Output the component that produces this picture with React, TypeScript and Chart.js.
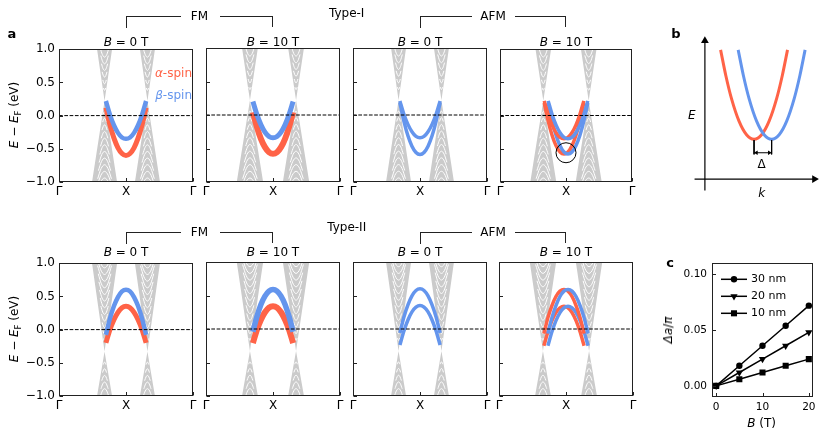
import React, { useEffect, useRef } from 'react';
import { Chart, registerables } from 'chart.js';
import { drawPoint } from 'chart.js/helpers';

Chart.register(...registerables);

const FONT = '"DejaVu Sans", "Liberation Sans", Arial, sans-serif';
const RED = '#ff6347';
const BLUE = '#6495ed';
const GRAY = '#cbcbcb';
const INK = '#222222';

// ---------------- panel a : axes ----------------
const kTicks = [0, 1, 2];
const kTickLabels = ['Γ', 'X', 'Γ'];
const eTicks = [-1, -0.5, 0, 0.5, 1];
const eTickLabels = ['−1.0', '−0.5', '0.0', '0.5', '1.0'];
const typeNames = ['Type-I', 'Type-II'];
const orderNames = ['FM', 'AFM'];
const fieldValues = ['0', '10', '0', '10'];

// ---------------- panel a : bulk cones ----------------
const coneCrossK = [0.68, 0.656, 0.68, 0.656]; // left crossing (right one mirrored about X)
const coneCrossE = [0.22, -0.33]; // per row
const coneTopHalf = [[0.112, 0.118], [0.187, 0.197]]; // half width at E = +1  [row][B=0, B=10]
const coneBottomHalf = [[0.187, 0.197], [0.112, 0.118]]; // half width at E = -1
const gapOffsetsShort = [0.16, 0.26, 0.36, 0.46, 0.56, 0.66, 0.76];
const gapOffsetsLong = [0.16, 0.26, 0.36, 0.46, 0.56, 0.66, 0.76, 0.86, 0.96, 1.06, 1.16, 1.26];

// ---------------- panel a : surface bands (half branch, offset from X) ----------------
const bandDk = [0, 0.06, 0.12, 0.18, 0.24, 0.3];
const t1FmB0Alpha = [-0.6, -0.57, -0.485, -0.34, -0.14, 0.12];
const t1FmB0Beta = [-0.35, -0.33, -0.26, -0.145, 0.015, 0.22];
const t1FmB10Alpha = [-0.58, -0.555, -0.48, -0.355, -0.18, 0.04];
const t1FmB10Beta = [-0.34, -0.32, -0.255, -0.145, 0.005, 0.2];
const t1AfmB0Upper = [-0.34, -0.32, -0.25, -0.14, 0.01, 0.21];
const t1AfmB0Lower = [-0.59, -0.56, -0.465, -0.31, -0.095, 0.18];
const t1AfmB10Upper = [-0.35, -0.33, -0.26, -0.145, 0.015, 0.22];
const t1AfmB10Lower = [-0.58, -0.55, -0.455, -0.3, -0.085, 0.19];
const t2FmB0Alpha = [0.35, 0.33, 0.26, 0.15, 0.0, -0.2];
const t2FmB0Beta = [0.6, 0.575, 0.49, 0.355, 0.165, -0.08];
const t2FmB10Alpha = [0.34, 0.32, 0.25, 0.14, -0.01, -0.21];
const t2FmB10Beta = [0.59, 0.565, 0.49, 0.365, 0.185, -0.04];
const t2AfmB0Upper = [0.6, 0.575, 0.495, 0.36, 0.18, -0.06];
const t2AfmB0Lower = [0.35, 0.325, 0.255, 0.135, -0.03, -0.24];
const t2AfmB10Upper = [0.59, 0.565, 0.485, 0.35, 0.17, -0.07];
const t2AfmB10Lower = [0.34, 0.315, 0.245, 0.125, -0.04, -0.25];
const afmSplitK = 0.03;
const ringCentre = { x: 1, y: -0.56 };

// ---------------- panel b : schematic ----------------
const schemDk = [0, 0.8, 1.6, 2.4, 3.0, 3.56];
const schemE = [4.2, 4.67, 6.1, 8.47, 10.88, 13.6];
const schemMinK = [5.23, 7.1]; // alpha, beta
const schemKAxis = [-1.1, 11.65];
const schemEAxis = [-1.2, 14.55];
const schemMarkE = [4.1, 2.6];
const schemArrowE = 2.77;

// ---------------- panel c ----------------
const fieldB = [0, 5, 10, 15, 20];
const split30 = [0, 0.018, 0.036, 0.054, 0.072];
const split20 = [0, 0.012, 0.024, 0.036, 0.048];
const split10 = [0, 0.006, 0.012, 0.018, 0.024];
const thicknessNames = ['30 nm', '20 nm', '10 nm'];
const cXTicks = [0, 10, 20];
const cYTicks = [0, 0.05, 0.1];
const cYTickLabels = ['0.00', '0.05', '0.10'];

// ---------------- layout ----------------
const panelLeft = [59, 206, 353, 499];
const panelTop = [48, 262];
const panelW = 134;
const panelH = 134;

type BandSpec = { e: number[]; color: string; width: number; shift: number };
const bandSpecs: BandSpec[][][] = [
  [
    [
      { e: t1FmB0Alpha, color: RED, width: 5, shift: 0 },
      { e: t1FmB0Beta, color: BLUE, width: 4.5, shift: 0 },
    ],
    [
      { e: t1FmB10Alpha, color: RED, width: 6, shift: 0 },
      { e: t1FmB10Beta, color: BLUE, width: 5, shift: 0 },
    ],
    [
      { e: t1AfmB0Lower, color: BLUE, width: 3.5, shift: 0 },
      { e: t1AfmB0Upper, color: BLUE, width: 3.5, shift: 0 },
    ],
    [
      { e: t1AfmB10Lower, color: RED, width: 3.5, shift: -afmSplitK },
      { e: t1AfmB10Lower, color: BLUE, width: 3.5, shift: afmSplitK },
      { e: t1AfmB10Upper, color: RED, width: 3.5, shift: -afmSplitK },
      { e: t1AfmB10Upper, color: BLUE, width: 3.5, shift: afmSplitK },
    ],
  ],
  [
    [
      { e: t2FmB0Alpha, color: RED, width: 5, shift: 0 },
      { e: t2FmB0Beta, color: BLUE, width: 4.5, shift: 0 },
    ],
    [
      { e: t2FmB10Alpha, color: RED, width: 6, shift: 0 },
      { e: t2FmB10Beta, color: BLUE, width: 5.5, shift: 0 },
    ],
    [
      { e: t2AfmB0Lower, color: BLUE, width: 3.5, shift: 0 },
      { e: t2AfmB0Upper, color: BLUE, width: 3.5, shift: 0 },
    ],
    [
      { e: t2AfmB10Lower, color: RED, width: 3.5, shift: -afmSplitK },
      { e: t2AfmB10Lower, color: BLUE, width: 3.5, shift: afmSplitK },
      { e: t2AfmB10Upper, color: RED, width: 3.5, shift: -afmSplitK },
      { e: t2AfmB10Upper, color: BLUE, width: 3.5, shift: afmSplitK },
    ],
  ],
];

// ---------------- builders ----------------
function hourglass(kc: number, ec: number, topHalf: number, botHalf: number) {
  return [
    { x: kc - topHalf, y: 1 },
    { x: kc, y: ec },
    { x: kc - botHalf, y: -1 },
    { x: kc + botHalf, y: -1 },
    { x: kc, y: ec },
    { x: kc + topHalf, y: 1 },
  ];
}

function gapArcs(kc: number, ec: number, dir: number, offsets: number[], range: number, half: number) {
  const pts: any[] = [];
  const kPerE = half / range;
  for (const m of offsets) {
    if (m > range - 0.03) continue;
    const w = m * kPerE;
    pts.push({ x: kc - 0.7 * w, y: ec + dir * 1.22 * m });
    pts.push({ x: kc - 0.35 * w, y: ec + dir * 1.06 * m });
    pts.push({ x: kc, y: ec + dir * m });
    pts.push({ x: kc + 0.35 * w, y: ec + dir * 1.06 * m });
    pts.push({ x: kc + 0.7 * w, y: ec + dir * 1.22 * m });
    pts.push({ x: kc, y: null });
  }
  return pts;
}

function branch(centre: number, dk: number[], e: number[]) {
  const pts: any[] = [];
  for (let i = dk.length - 1; i > 0; i--) pts.push({ x: centre - dk[i], y: e[i] });
  for (let i = 0; i < dk.length; i++) pts.push({ x: centre + dk[i], y: e[i] });
  return pts;
}

const framePlugin = {
  id: 'frame',
  afterDatasetsDraw(chart: any) {
    const { ctx, chartArea: a, scales } = chart;
    ctx.save();
    ctx.strokeStyle = INK;
    ctx.lineWidth = 1;
    const l = Math.round(a.left) + 0.5;
    const t = Math.round(a.top) + 0.5;
    const r = Math.round(a.right) - 0.5;
    const b = Math.round(a.bottom) - 0.5;
    ctx.strokeRect(l, t, r - l, b - t);
    const len = 3.5;
    ctx.beginPath();
    for (const tk of scales.x.ticks) {
      const px = Math.round(scales.x.getPixelForValue(tk.value)) + 0.5;
      ctx.moveTo(px, b);
      ctx.lineTo(px, b - len);
    }
    for (const tk of scales.y.ticks) {
      const py = Math.round(scales.y.getPixelForValue(tk.value)) + 0.5;
      ctx.moveTo(l, py);
      ctx.lineTo(l + len, py);
    }
    ctx.stroke();
    ctx.restore();
  },
};

const lineLegendPlugin = {
  id: 'lineLegend',
  afterDatasetsDraw(chart: any) {
    const { ctx, chartArea: a } = chart;
    ctx.save();
    chart.data.datasets.forEach((ds: any, i: number) => {
      const y = a.top + 16 + i * 17;
      const x0 = a.left + 9;
      const x1 = a.left + 35;
      ctx.strokeStyle = '#000';
      ctx.lineWidth = 1.5;
      ctx.beginPath();
      ctx.moveTo(x0, y);
      ctx.lineTo(x1, y);
      ctx.stroke();
      ctx.fillStyle = '#000';
      drawPoint(ctx, { pointStyle: ds.pointStyle, rotation: ds.pointRotation || 0, radius: ds.pointRadius, borderWidth: 0 } as any, (x0 + x1) / 2, y);
      ctx.font = `11px ${FONT}`;
      ctx.textBaseline = 'middle';
      ctx.textAlign = 'left';
      ctx.fillText(ds.label, x1 + 4, y);
    });
    ctx.restore();
  },
};

function bandConfig(row: number, col: number, padL: number, padR: number, padT: number, padB: number) {
  const datasets: any[] = [];
  const f = col % 2;
  const ec = coneCrossE[row];
  const top = coneTopHalf[row][f];
  const bot = coneBottomHalf[row][f];
  const upOffsets = row === 0 ? gapOffsetsShort : gapOffsetsLong;
  const downOffsets = row === 0 ? gapOffsetsLong : gapOffsetsShort;
  for (const kc of [coneCrossK[col], 2 - coneCrossK[col]]) {
    datasets.push({ data: hourglass(kc, ec, top, bot), fill: 'shape', backgroundColor: GRAY, borderColor: 'rgba(0,0,0,0)', borderWidth: 0, tension: 0 });
    datasets.push({ data: gapArcs(kc, ec, 1, upOffsets, 1 - ec, top), borderColor: '#ffffff', borderWidth: 1, fill: false, cubicInterpolationMode: 'monotone' });
    datasets.push({ data: gapArcs(kc, ec, -1, downOffsets, 1 + ec, bot), borderColor: '#ffffff', borderWidth: 1, fill: false, cubicInterpolationMode: 'monotone' });
  }
  for (const b of bandSpecs[row][col]) {
    datasets.push({ data: branch(1 + b.shift, bandDk, b.e), borderColor: b.color, borderWidth: b.width, fill: false, cubicInterpolationMode: 'monotone' });
  }
  datasets.push({ data: [{ x: 0, y: 0 }, { x: 2, y: 0 }], borderColor: '#000', borderWidth: 1, borderDash: [3.7, 1.6], fill: false });
  if (row === 0 && col === 3) {
    datasets.push({ data: [ringCentre], showLine: false, pointRadius: 10, pointStyle: 'circle', pointBorderColor: '#000', pointBorderWidth: 1, pointBackgroundColor: 'rgba(0,0,0,0)' });
  }
  datasets.forEach((d, i) => { d.order = -i; });
  return {
    type: 'line',
    data: { datasets },
    options: {
      animation: false,
      responsive: false,
      maintainAspectRatio: false,
      events: [],
      layout: { padding: { left: 0, right: padR, top: padT, bottom: 0 } },
      elements: { point: { radius: 0 } },
      plugins: { legend: { display: false }, tooltip: { enabled: false }, title: { display: false } },
      scales: {
        x: {
          type: 'linear', min: 0, max: 2,
          grid: { display: false, drawTicks: false }, border: { display: false },
          afterBuildTicks: (s: any) => { s.ticks = kTicks.map((v) => ({ value: v })); },
          ticks: { autoSkip: false, maxRotation: 0, padding: 3, color: '#000', font: { family: FONT, size: 12 }, callback: (_v: any, i: number) => kTickLabels[i] },
          afterFit: (s: any) => { s.height = padB; },
        },
        y: {
          type: 'linear', min: -1, max: 1,
          grid: { display: false, drawTicks: false }, border: { display: false },
          afterBuildTicks: (s: any) => { s.ticks = eTicks.map((v) => ({ value: v })); },
          ticks: { display: col === 0, autoSkip: false, padding: 4, color: '#000', font: { family: FONT, size: 12 }, callback: (_v: any, i: number) => eTickLabels[i] },
          afterFit: (s: any) => { s.width = padL; },
        },
      },
    },
    plugins: [framePlugin],
  };
}

function schematicConfig() {
  const parabola = (c: number) => branch(c, schemDk, schemE);
  const datasets: any[] = [
    { data: [{ x: 0, y: schemEAxis[0] }, { x: 0, y: schemEAxis[1] }], borderColor: '#000', borderWidth: 1.2, pointStyle: 'triangle', pointRadius: [0, 4.5], pointRotation: [0, 0], pointBackgroundColor: '#000', pointBorderWidth: 0 },
    { data: [{ x: schemKAxis[0], y: 0 }, { x: schemKAxis[1], y: 0 }], borderColor: '#000', borderWidth: 1.2, pointStyle: 'triangle', pointRadius: [0, 4.5], pointRotation: [0, 90], pointBackgroundColor: '#000', pointBorderWidth: 0 },
    { data: parabola(schemMinK[0]), borderColor: RED, borderWidth: 3, cubicInterpolationMode: 'monotone' },
    { data: parabola(schemMinK[1]), borderColor: BLUE, borderWidth: 3, cubicInterpolationMode: 'monotone' },
    { data: [{ x: schemMinK[0], y: schemMarkE[0] }, { x: schemMinK[0], y: schemMarkE[1] }, { x: schemMinK[0], y: null }, { x: schemMinK[1], y: schemMarkE[0] }, { x: schemMinK[1], y: schemMarkE[1] }], borderColor: '#000', borderWidth: 1 },
    { data: [{ x: schemMinK[0] + 0.25, y: schemArrowE }, { x: schemMinK[1] - 0.25, y: schemArrowE }], borderColor: '#000', borderWidth: 1, pointStyle: 'triangle', pointRadius: [2.6, 2.6], pointRotation: [270, 90], pointBackgroundColor: '#000', pointBorderWidth: 0 },
  ];
  datasets.forEach((d, i) => { d.order = -i; d.fill = false; });
  return {
    type: 'line',
    data: { datasets },
    options: {
      animation: false, responsive: false, maintainAspectRatio: false, events: [],
      layout: { padding: 0 },
      elements: { point: { radius: 0 } },
      plugins: { legend: { display: false }, tooltip: { enabled: false } },
      scales: {
        x: { type: 'linear', display: false, min: -2.17, max: 12.83 },
        y: { type: 'linear', display: false, min: -1.73, max: 16.27 },
      },
    },
  };
}

function trendConfig(padL: number, padR: number, padT: number, padB: number) {
  const pts = (ys: number[]) => fieldB.map((b, i) => ({ x: b, y: ys[i] }));
  const common = { borderColor: '#000', borderWidth: 1.5, pointBackgroundColor: '#000', pointBorderWidth: 0, fill: false };
  const datasets: any[] = [
    { ...common, label: thicknessNames[0], data: pts(split30), pointStyle: 'circle', pointRadius: 3.2, pointRotation: 0 },
    { ...common, label: thicknessNames[1], data: pts(split20), pointStyle: 'triangle', pointRadius: 4.2, pointRotation: 180 },
    { ...common, label: thicknessNames[2], data: pts(split10), pointStyle: 'rect', pointRadius: 4.3, pointRotation: 0 },
  ];
  return {
    type: 'line',
    data: { datasets },
    options: {
      animation: false, responsive: false, maintainAspectRatio: false, events: [],
      layout: { padding: { left: 0, right: padR, top: padT, bottom: 0 } },
      plugins: { legend: { display: false }, tooltip: { enabled: false } },
      scales: {
        x: {
          type: 'linear', min: -0.9, max: 20.9,
          grid: { display: false, drawTicks: false }, border: { display: false },
          afterBuildTicks: (s: any) => { s.ticks = cXTicks.map((v) => ({ value: v })); },
          ticks: { autoSkip: false, maxRotation: 0, padding: 4, color: '#000', font: { family: FONT, size: 10.5 }, callback: (v: any) => String(v) },
          afterFit: (s: any) => { s.height = padB; },
        },
        y: {
          type: 'linear', min: -0.01, max: 0.11,
          grid: { display: false, drawTicks: false }, border: { display: false },
          afterBuildTicks: (s: any) => { s.ticks = cYTicks.map((v) => ({ value: v })); },
          ticks: { autoSkip: false, padding: 5, color: '#000', font: { family: FONT, size: 10.5 }, callback: (_v: any, i: number) => cYTickLabels[i] },
          afterFit: (s: any) => { s.width = padL; },
        },
      },
    },
    plugins: [framePlugin, lineLegendPlugin],
  };
}

function ChartBox(props: { left: number; top: number; width: number; height: number; make: () => any }) {
  const ref = useRef<HTMLCanvasElement | null>(null);
  useEffect(() => {
    const chart = new Chart(ref.current as HTMLCanvasElement, props.make());
    return () => chart.destroy();
  }, []);
  return (
    <canvas
      ref={ref}
      width={props.width}
      height={props.height}
      style={{ position: 'absolute', left: props.left, top: props.top, width: props.width, height: props.height }}
    />
  );
}

function Label(props: { x: number; y: number; children: any; style?: any; align?: 'center' | 'right' }) {
  const tx = props.align === 'right' ? '-100%' : '-50%';
  return (
    <div
      style={{ position: 'absolute', left: props.x, top: props.y, transform: `translate(${tx}, -50%)`, whiteSpace: 'nowrap', lineHeight: 1, ...props.style }}
    >
      {props.children}
    </div>
  );
}

function Bracket(props: { x1: number; x2: number; y: number; gap: number }) {
  const mid = (props.x1 + props.x2) / 2;
  return (
    <>
      <div style={{ position: 'absolute', left: props.x1, top: props.y, width: mid - props.gap - props.x1, height: 11, borderTop: '1px solid #222', borderLeft: '1px solid #222' }} />
      <div style={{ position: 'absolute', left: mid + props.gap, top: props.y, width: props.x2 - mid - props.gap, height: 11, borderTop: '1px solid #222', borderRight: '1px solid #222', boxSizing: 'border-box' }} />
    </>
  );
}

export default function App() {
  const bandBoxes: any[] = [];
  for (let row = 0; row < 2; row++) {
    for (let col = 0; col < 4; col++) {
      const padL = col === 0 ? 52 : 10;
      const padR = 10;
      const padT = 10;
      const padB = 24;
      bandBoxes.push(
        <ChartBox
          key={`p${row}${col}`}
          left={panelLeft[col] - padL}
          top={panelTop[row] - padT}
          width={panelW + padL + padR}
          height={panelH + padT + padB}
          make={() => bandConfig(row, col, padL, padR, padT, padB)}
        />
      );
    }
  }
  const centres = panelLeft.map((l) => l + panelW / 2);
  const rowHead = [
    { type: 13.3, bracket: 16, title: 41.7, ylab: 115 },
    { type: 227, bracket: 231.5, title: 251.7, ylab: 329 },
  ];
  const cPad = { l: 40, r: 12, t: 10, b: 22 };
  return (
    <div style={{ position: 'absolute', left: 0, top: 0, width: 830, height: 436, background: '#fff', overflow: 'hidden', fontFamily: FONT, fontSize: 12, color: '#000' }}>
      {bandBoxes}
      <ChartBox left={680} top={20} width={150} height={180} make={schematicConfig} />
      <ChartBox left={712 - cPad.l} top={262 - cPad.t} width={101 + cPad.l + cPad.r} height={135 + cPad.t + cPad.b} make={() => trendConfig(cPad.l, cPad.r, cPad.t, cPad.b)} />

      {rowHead.map((h, r) => (
        <React.Fragment key={`h${r}`}>
          <Label x={346.7} y={h.type}>{typeNames[r]}</Label>
          <Bracket x1={centres[0]} x2={centres[1]} y={h.bracket} gap={20} />
          <Label x={(centres[0] + centres[1]) / 2} y={h.bracket}>{orderNames[0]}</Label>
          <Bracket x1={centres[2]} x2={centres[3]} y={h.bracket} gap={22} />
          <Label x={(centres[2] + centres[3]) / 2} y={h.bracket}>{orderNames[1]}</Label>
          {centres.map((c, i) => (
            <Label key={`t${r}${i}`} x={c} y={h.title}>
              <i>B</i> = {fieldValues[i]} T
            </Label>
          ))}
          <Label x={14} y={h.ylab} style={{ transform: 'translate(-50%, -50%) rotate(-90deg)' }}>
            <i>E</i> − <i>E</i>
            <span style={{ fontSize: 8.5, position: 'relative', top: 2.5 }}>F</span> (eV)
          </Label>
        </React.Fragment>
      ))}

      <Label x={192} y={73.3} align="right" style={{ color: RED }}>
        <i>α</i>-spin
      </Label>
      <Label x={192} y={95} align="right" style={{ color: BLUE }}>
        <i>β</i>-spin
      </Label>

      <Label x={12} y={33} style={{ fontWeight: 'bold', fontSize: 13 }}>a</Label>
      <Label x={676} y={33} style={{ fontWeight: 'bold', fontSize: 13 }}>b</Label>
      <Label x={670} y={262} style={{ fontWeight: 'bold', fontSize: 13 }}>c</Label>

      <Label x={691.7} y={115}><i>E</i></Label>
      <Label x={761.7} y={193}><i>k</i></Label>
      <Label x={761.7} y={164}>Δ</Label>

      <Label x={668} y={330} style={{ transform: 'translate(-50%, -50%) rotate(-90deg)' }}>
        <i>Δa</i>/<i>π</i>
      </Label>
      <Label x={761.7} y={423}>
        <i>B</i> (T)
      </Label>
    </div>
  );
}
